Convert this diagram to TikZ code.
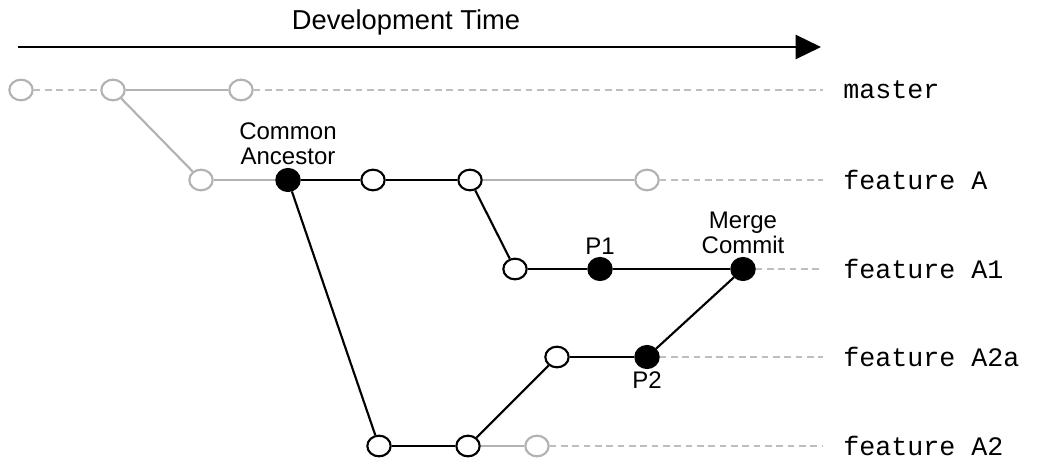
\documentclass[tikz,border=0pt]{standalone}
\usepackage{fontspec}
\setmainfont{Liberation Sans}
\setmonofont{Liberation Mono}
\usetikzlibrary{arrows.meta,shapes.geometric}
\definecolor{oldgray}{RGB}{178,178,178}
\definecolor{tailgray}{RGB}{190,190,190}

\begin{document}
\begin{tikzpicture}[x=0.75pt, y=-0.75pt,
    commit/.style={ellipse, draw=black, fill=white, line width=1.6pt,
        minimum width=17.5pt, minimum height=15.5pt, inner sep=0pt},
    oldcommit/.style={commit, draw=oldgray},
    keycommit/.style={commit, fill=black, minimum height=16.5pt},
    link/.style={line width=1.6pt, black},
    oldlink/.style={line width=1.6pt, oldgray},
    tail/.style={line width=1.5pt, tailgray, dash pattern=on 5pt off 3.5pt},
    branch/.style={anchor=west, inner sep=0pt,
        font=\ttfamily\fontsize{20}{24}\selectfont},
    note/.style={align=center, inner sep=1pt,
        font=\fontsize{18}{19}\selectfont}]
    \useasboundingbox (0,0) rectangle (1038,460);
    % Eje de tiempo
    \coordinate (t0) at (18,47);
    \coordinate (t1) at (821,47);
    \draw[line width=1.8pt, -{Triangle[length=19pt, width=18pt]}] (t0) -- (t1);
    \node (time) at (406,22) {\fontsize{20.5}{24}\selectfont Development Time};
    % master
    \node[oldcommit] (m1) at (21,90) {};
    \node[oldcommit] (m2) at (113,90) {};
    \node[oldcommit] (m3) at (241,90) {};
    \node[branch] (lmaster) at (843,90) {master};
    \draw[tail] (m1) -- (m2);
    \draw[oldlink] (m2) -- (m3);
    \draw[tail] (m3) -- ([xshift=-15pt]lmaster.west);
    % feature A
    \node[oldcommit] (fa0) at (201,180) {};
    \node[keycommit] (fa1) at (288,180) {};
    \node[commit] (fa2) at (373,180) {};
    \node[commit] (fa3) at (470,180) {};
    \node[oldcommit] (fa4) at (647,180) {};
    \node[branch] (lfa) at (843,180) {feature A};
    \draw[oldlink] (m2) -- (fa0);
    \draw[oldlink] (fa0) -- (fa1);
    \draw[link] (fa1) -- (fa2);
    \draw[link] (fa2) -- (fa3);
    \draw[oldlink] (fa3) -- (fa4);
    \draw[tail] (fa4) -- ([xshift=-15pt]lfa.west);
    \node[note, anchor=south] (lca) at ([yshift=1pt]fa1.north) {Common\\Ancestor};
    % feature A1
    \node[commit] (a1a) at (515,269) {};
    \node[keycommit] (p1) at (600,269) {};
    \node[keycommit] (mc) at (743,269) {};
    \node[branch] (lfa1) at (843,269) {feature A1};
    \draw[link] (fa3) -- (a1a);
    \draw[link] (a1a) -- (p1);
    \draw[link] (p1) -- (mc);
    \draw[tail] (mc) -- ([xshift=-15pt]lfa1.west);
    \node[note, anchor=south] (lp1) at ([yshift=1pt]p1.north) {P1};
    \node[note, anchor=south] (lmc) at ([yshift=1pt]mc.north) {Merge\\Commit};
    % feature A2
    \node[commit] (a2a) at (379,446) {};
    \node[commit] (a2b) at (468,446) {};
    \node[oldcommit] (a2c) at (537,446) {};
    \node[branch] (lfa2) at (843,446) {feature A2};
    \draw[link] (fa1) -- (a2a);
    \draw[link] (a2a) -- (a2b);
    \draw[oldlink] (a2b) -- (a2c);
    \draw[tail] (a2c) -- ([xshift=-15pt]lfa2.west);
    % feature A2a
    \node[commit] (s1) at (557,357) {};
    \node[keycommit] (p2) at (647,357) {};
    \node[branch] (lfa2a) at (843,357) {feature A2a};
    \draw[link] (a2b) -- (s1);
    \draw[link] (s1) -- (p2);
    \draw[link] (p2) -- (mc);
    \draw[tail] (p2) -- ([xshift=-15pt]lfa2a.west);
    \node[note, anchor=north] (lp2) at ([yshift=-1pt]p2.south) {P2};
\end{tikzpicture}
\end{document}
